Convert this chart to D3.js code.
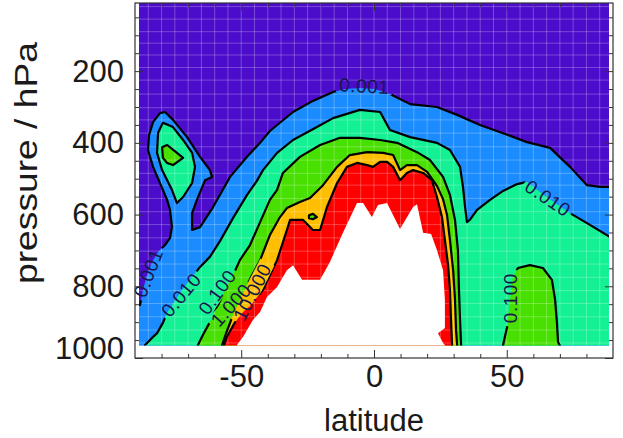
<!DOCTYPE html>
<html>
<head>
<meta charset="utf-8">
<script src="https://cdn.jsdelivr.net/npm/d3@7"></script>
<style>
  body { margin: 0; background: #fff; }
  text { font-family: "Liberation Sans", Arial, sans-serif; }
</style>
</head>
<body>
<div id="vis"></div>
<script>
const width = 623;
const height = 438;
const plot = { left: 135, right: 613, top: 3, bottom: 358 };

// extent of the gridded field (latitude, hPa)
const latExtent = [-88.5, 88.5];
const pExtent = [10, 965];

// contour outlines as [latitude, pressure]
const c001 = [[-95,855],[-88.1,852],[-87.0,810],[-85.5,769],[-83.6,733],[-81.3,704],[-78.7,685],[-76.8,665],[-76.1,635],[-76.8,587],[-77.9,559],[-80.6,512],[-83.2,467],[-85.1,420],[-84.7,378],[-83.2,342],[-80.6,317],[-78.7,314],[-75.7,336],[-70.4,384],[-65.5,439],[-61.8,476],[-61.0,495],[-63.6,504],[-66.7,559],[-68.5,596],[-68.5,643],[-65.5,635],[-60.6,579],[-54.2,495],[-47.8,439],[-42.9,400],[-39.2,367],[-30.5,314],[-23.0,283],[-15.4,258],[-10.9,250],[-5.3,247],[0.4,250],[6.0,264],[13.6,292],[23.7,300],[31.3,322],[39.9,350],[48.6,373],[57.6,398],[66.3,414],[73.8,467],[80.2,518],[85.1,523],[95,523],[95,1010],[-95,1010]];
const c01Main = [[-87,1010],[-86.2,964],[-83.6,944],[-81.7,931],[-79.5,902],[-77.9,874],[-73.1,819],[-69.3,782],[-65.5,746],[-61.8,718],[-58.0,674],[-53.1,610],[-47.8,545],[-44.1,506],[-41.8,476],[-36.5,428],[-30.5,392],[-21.5,356],[-15.4,331],[-5.3,308],[2.3,314],[6.0,364],[13.6,384],[23.7,400],[28.6,420],[32.4,467],[33.5,523],[34.3,579],[35.0,621],[36.1,615],[38.8,587],[43.7,559],[48.6,534],[53.9,515],[57.6,509],[65.5,554],[73.8,596],[80.2,624],[88.9,663],[95,671],[95,1010]];
const c01Island = [[-79.5,344],[-81.3,372],[-81.7,428],[-79.8,476],[-76.1,531],[-74.2,568],[-71.9,551],[-68.5,512],[-67.4,467],[-68.5,428],[-71.9,392],[-75.7,356]];
const c1Main = [[-66.3,1010],[-66.3,964],[-64.4,935],[-61.8,900],[-58.7,852],[-55.7,805],[-53.1,769],[-50.5,727],[-46.7,685],[-42.9,621],[-39.2,559],[-36.5,531],[-34.3,484],[-27.9,439],[-20.3,406],[-12.8,386],[-5.3,386],[2.3,392],[8.7,400],[16.2,426],[21.1,448],[26.0,495],[28.6,545],[30.5,615],[31.6,699],[32.0,810],[32.4,894],[32.8,964],[32.8,1010]];
const c1Polar = [[48.6,1010],[48.6,964],[50.1,914],[51.2,838],[52.3,774],[54.2,749],[58.7,741],[63.6,749],[67.0,782],[68.2,838],[68.9,902],[69.3,955],[70.8,978],[70.8,1010]];
const c1Island = [[-79.8,412],[-79.5,442],[-77.9,456],[-75.7,462],[-71.9,442],[-74.2,428],[-77.9,406]];
const c10 = [[-57.8,1010],[-57.2,964],[-55.7,931],[-53.5,888],[-50.5,838],[-46.7,780],[-42.9,727],[-39.2,657],[-35.4,607],[-32.8,582],[-27.9,565],[-24.1,554],[-19.2,518],[-13.9,467],[-9.1,434],[-2.6,426],[3.4,428],[7.2,434],[9.8,476],[12.4,462],[16.2,462],[20.0,481],[23.7,520],[26.0,557],[27.5,601],[28.6,671],[29.8,755],[30.5,838],[30.9,923],[31.3,964],[31.3,1010]];
const c100 = [[-56.9,1010],[-56.6,964],[-55.0,935],[-52.3,900],[-49.3,872],[-46.7,855],[-41.8,810],[-36.5,727],[-32.8,643],[-31.6,615],[-26.7,615],[-23.0,643],[-20.3,643],[-17.7,579],[-13.9,512],[-10.2,467],[-6.4,456],[-2.6,462],[-0.4,467],[2.3,453],[4.9,453],[7.2,467],[9.8,504],[12.4,484],[14.7,476],[18.5,484],[21.8,504],[23.7,551],[25.6,607],[26.7,671],[27.9,741],[28.6,810],[29.0,894],[29.4,964],[29.4,1010]];
const c10Blob = [[-24.5,602],[-23.0,598],[-21.5,607],[-23.0,613],[-24.5,610]];
const missing = [[-51.6,1010],[-51.6,964],[-49.3,941],[-45.6,894],[-42.9,872],[-40.3,830],[-36.5,802],[-32.8,755],[-30.5,741],[-27.1,782],[-20.3,782],[-16.6,732],[-11.7,651],[-6.4,568],[-4.1,568],[-0.8,607],[1.5,573],[4.9,568],[9.8,640],[14.7,579],[16.2,571],[18.5,651],[21.5,654],[23.7,699],[26.0,755],[26.7,838],[26.7,916],[24.1,931],[26.0,958],[26.7,964],[26.7,1010]];

const levels = ["0.001", "0.010", "0.100", "1.000", "10.000"];
const colors = ["#4c0ccb", "#1a8cff", "#14f094", "#48e000", "#ffbf00", "#ff0000"];

// contour labels: text, latitude, pressure, angle
const labelText = ["0.001", "0.001", "0.010", "0.100", "1.000", "10.000", "0.010", "0.100"];
const labelLat = [-3.7, -85.1, -72.7, -59.1, -53.9, -45.9, 65.5, 51.2];
const labelP = [241, 763, 824, 816, 852, 816, 554, 833];
const labelAngle = [3, -69, -50, -54, -48, -63, 34, -90];

// model grid seen as faint lines
const gridLat = [-85,-80,-75,-70,-65,-60,-55,-50,-45,-40,-35,-30,-25,-20,-15,-10,-5,0,5,10,15,20,25,30,35,40,45,50,55,60,65,70,75,80,85];
const gridP = [20,55,90,122,155,190,225,264,302,336,373,411,448,485,518,555,592,628,665,702,738,775,812,848,885,922,958];

// ticks
const latMajor = [-50, 0, 50];
const latMinor = [-80,-70,-60,-40,-30,-20,-10,10,20,30,40,60,70,80];
const pMajor = [200, 400, 600, 800, 1000];
const pMinor = [50,100,150,250,300,350,450,500,550,650,700,750,850,900,950];

const svg = d3.select("#vis").append("svg")
  .attr("width", width)
  .attr("height", height);

const x = d3.scaleLinear().domain([-90, 90]).range([plot.left, plot.right]);
const y = d3.scaleLinear().domain([10, 1000]).range([plot.top, plot.bottom]);
const line = d3.line().x(d => x(d[0])).y(d => y(d[1]));

const defs = svg.append("defs");
defs.append("clipPath").attr("id", "clip").append("rect")
  .attr("x", x(latExtent[0]))
  .attr("y", y(pExtent[0]))
  .attr("width", x(latExtent[1]) - x(latExtent[0]))
  .attr("height", y(pExtent[1]) - y(pExtent[0]));

const field = svg.append("g").attr("clip-path", "url(#clip)");

field.append("rect")
  .attr("x", x(latExtent[0])).attr("y", y(pExtent[0]))
  .attr("width", x(latExtent[1]) - x(latExtent[0]))
  .attr("height", y(pExtent[1]) - y(pExtent[0]))
  .attr("fill", colors[0]);

const bands = [
  { shapes: [c001], color: colors[1] },
  { shapes: [c01Main, c01Island], color: colors[2] },
  { shapes: [c1Main, c1Polar, c1Island], color: colors[3] },
  { shapes: [c10], color: colors[4] },
  { shapes: [c100], color: colors[5] },
  { shapes: [c10Blob], color: colors[3] }
];

bands.forEach(b => {
  b.shapes.forEach(s => {
    field.append("path").attr("d", line(s) + "Z").attr("fill", b.color);
  });
});

// faint grid
field.selectAll(".glat").data(gridLat).join("line")
  .attr("x1", d => x(d)).attr("x2", d => x(d))
  .attr("y1", y(pExtent[0])).attr("y2", y(pExtent[1]))
  .attr("stroke", "#fff").attr("stroke-opacity", 0.25).attr("stroke-width", 1);
field.selectAll(".gp").data(gridP).join("line")
  .attr("y1", d => y(d)).attr("y2", d => y(d))
  .attr("x1", x(latExtent[0])).attr("x2", x(latExtent[1]))
  .attr("stroke", "#fff").attr("stroke-opacity", 0.25).attr("stroke-width", 1);

// missing data
field.append("path").attr("d", line(missing) + "Z").attr("fill", "#fff");

// labels first so the gaps in the lines can be sized
const labels = svg.append("g");
const mask = defs.append("mask").attr("id", "gaps");
mask.append("rect").attr("width", width).attr("height", height).attr("fill", "#fff");

labelText.forEach((t, i) => {
  const cx = x(labelLat[i]), cy = y(labelP[i]);
  const txt = labels.append("text")
    .attr("transform", `translate(${cx},${cy}) rotate(${labelAngle[i]})`)
    .attr("text-anchor", "middle")
    .attr("dy", "0.36em")
    .attr("font-size", 19)
    .attr("letter-spacing", 0.5)
    .attr("fill", "#16164e")
    .text(t);
  const w = txt.node().getComputedTextLength() + 6;
  mask.append("rect")
    .attr("x", -w / 2).attr("y", -8).attr("width", w).attr("height", 16)
    .attr("transform", `translate(${cx},${cy}) rotate(${labelAngle[i]})`)
    .attr("fill", "#000");
});

// contour lines
const lines = svg.append("g").attr("clip-path", "url(#clip)")
  .append("g").attr("mask", "url(#gaps)");
bands.forEach(b => {
  b.shapes.forEach(s => {
    lines.append("path").attr("d", line(s) + "Z")
      .attr("fill", "none").attr("stroke", "#000")
      .attr("stroke-width", 2.2).attr("stroke-linejoin", "round");
  });
});
labels.raise();

// axes, ticks pointing inward on all four sides
const axisColor = "#333";
const fontSize = 31;
function styleAxis(g) {
  g.select(".domain").remove();
  g.selectAll(".tick line").attr("stroke", axisColor);
  g.selectAll("text").attr("font-size", fontSize).attr("fill", "#1a1a1a")
    .attr("font-family", '"Liberation Sans", Arial, sans-serif');
}

svg.append("g").attr("transform", `translate(0,${plot.bottom})`)
  .call(d3.axisBottom(x).tickValues(latMajor).tickSize(-8).tickPadding(7).tickFormat(d => String(d)))
  .call(styleAxis);
svg.append("g").attr("transform", `translate(0,${plot.bottom})`)
  .call(d3.axisBottom(x).tickValues(latMinor).tickSize(-4).tickFormat(""))
  .call(styleAxis);
svg.append("g").attr("transform", `translate(0,${plot.top})`)
  .call(d3.axisTop(x).tickValues(latMajor).tickSize(-8).tickFormat(""))
  .call(styleAxis);
svg.append("g").attr("transform", `translate(0,${plot.top})`)
  .call(d3.axisTop(x).tickValues(latMinor).tickSize(-4).tickFormat(""))
  .call(styleAxis);

const yAxis = svg.append("g").attr("transform", `translate(${plot.left},0)`)
  .call(d3.axisLeft(y).tickValues(pMajor).tickSize(-8).tickPadding(11).tickFormat(d => String(d)))
  .call(styleAxis);
yAxis.selectAll(".tick text").filter(d => d === 1000).attr("dy", "0.0em");
svg.append("g").attr("transform", `translate(${plot.left},0)`)
  .call(d3.axisLeft(y).tickValues(pMinor).tickSize(-4).tickFormat(""))
  .call(styleAxis);
svg.append("g").attr("transform", `translate(${plot.right},0)`)
  .call(d3.axisRight(y).tickValues(pMajor).tickSize(-8).tickFormat(""))
  .call(styleAxis);
svg.append("g").attr("transform", `translate(${plot.right},0)`)
  .call(d3.axisRight(y).tickValues(pMinor).tickSize(-4).tickFormat(""))
  .call(styleAxis);

svg.append("rect")
  .attr("x", plot.left).attr("y", plot.top)
  .attr("width", plot.right - plot.left).attr("height", plot.bottom - plot.top)
  .attr("fill", "none").attr("stroke", axisColor).attr("stroke-width", 1.2);

// axis titles
svg.append("text")
  .attr("x", (plot.left + plot.right) / 2)
  .attr("y", 431)
  .attr("text-anchor", "middle")
  .attr("font-size", fontSize).attr("fill", "#1a1a1a")
  .text("latitude");

svg.append("text")
  .attr("transform", `translate(37,${163}) rotate(-90)`)
  .attr("text-anchor", "middle")
  .attr("font-size", fontSize).attr("fill", "#1a1a1a")
  .attr("textLength", 242).attr("lengthAdjust", "spacingAndGlyphs")
  .text("pressure / hPa");
</script>
</body>
</html>
